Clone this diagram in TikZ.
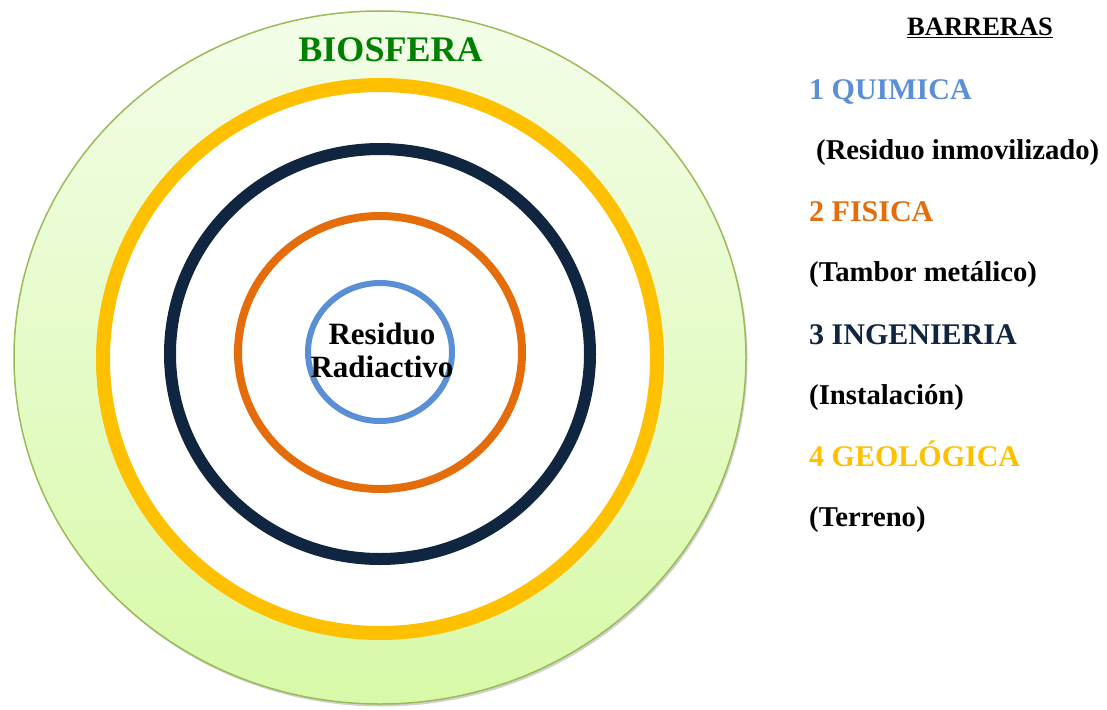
\documentclass[tikz,border=0pt]{standalone}
\usepackage{fontspec}
\setmainfont{Liberation Serif}
\definecolor{azul}{HTML}{5B8FD5}
\definecolor{naranja}{HTML}{E46C0A}
\definecolor{marino}{HTML}{10253F}
\definecolor{amarillo}{HTML}{FFC000}
\definecolor{verde}{HTML}{008000}
\definecolor{borde}{HTML}{9BBB59}
\definecolor{claro}{HTML}{F3FDE8}
\definecolor{oscuro}{HTML}{D8F9A8}
\tikzset{
 titulo/.style={anchor=base west, inner sep=0pt, font=\bfseries\fontsize{30}{34}\selectfont},
 detalle/.style={anchor=base west, inner sep=0pt, font=\bfseries\fontsize{28.7}{32}\selectfont}
}
\begin{document}
\begin{tikzpicture}[x=1pt, y=1pt, line join=round, line cap=round]
 \useasboundingbox (0,0) rectangle (1107,-709);
 % biosfera
 \fill[black!18] (381.5,-360) ellipse [x radius=366, y radius=346.5];
 \shade[top color=claro, bottom color=oscuro, draw=borde, line width=1.5pt] (380,-357.5) ellipse [x radius=366, y radius=346.5];
 \node[anchor=base, inner sep=0pt, text=verde, font=\bfseries\fontsize{36}{40}\selectfont] (biosfera) at (390.5,-61) {BIOSFERA};
 % barreras
 \fill[white] (380,-359) ellipse [x radius=277, y radius=274];
 \foreach \cy/\rx/\ry/\w/\col in {359/277/274/14pt/amarillo, 354/210/205/12pt/marino, 352.5/142/136.5/8pt/naranja, 352/72/69/6pt/azul}
 \draw[\col, line width=\w] (380,-\cy) ellipse [x radius=\rx, y radius=\ry];
 \node[anchor=base, inner sep=0pt, align=center, font=\bfseries\fontsize{31}{33}\selectfont] (residuo) at (382,-377) {Residuo\\Radiactivo};
 % leyenda
 \node[anchor=base west, inner sep=0pt, font=\bfseries\fontsize{26.5}{30}\selectfont] (barreras) at (907,-36) {\underline{BARRERAS}};
 \foreach \i/\nom/\col/\det/\dx in {1/QUIMICA/azul/Residuo inmovilizado/816, 2/FISICA/naranja/Tambor metálico/809, 3/INGENIERIA/marino/Instalación/809, 4/GEOLÓGICA/amarillo/Terreno/809}{
 \node[titulo, text=\col] (b\i) at (809, {-99-122.5*(\i-1)}) {\i\ \nom};
 \node[detalle] (d\i) at (\dx, {-159-122.5*(\i-1)}) {(\det)};
 }
\end{tikzpicture}
\end{document}
